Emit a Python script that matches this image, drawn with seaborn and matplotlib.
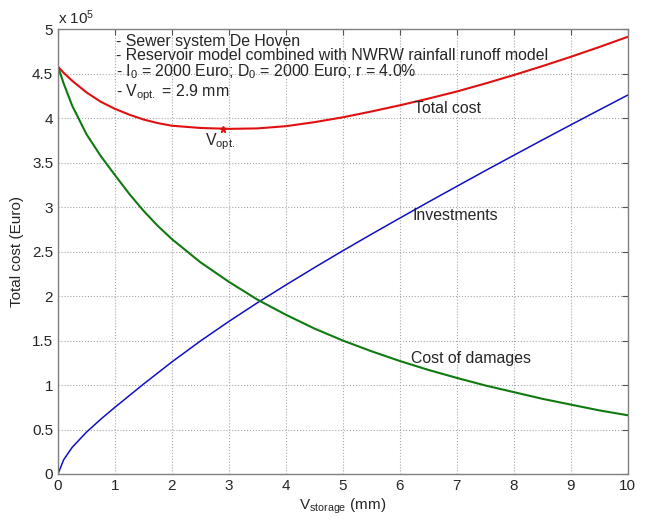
import matplotlib
matplotlib.use("Agg")
import matplotlib.pyplot as plt
import seaborn as sns
import pandas as pd

# ---- data (units of 1e5 Euro) ----
v_storage = [0, 0.1, 0.25, 0.5, 0.75, 1, 1.25, 1.5, 1.75, 2, 2.5, 3, 3.5, 4, 4.5, 5,
             5.5, 6, 6.5, 7, 7.5, 8, 8.5, 9, 9.5, 10]
total_cost = [4.58, 4.51, 4.42, 4.29, 4.185, 4.105, 4.04, 3.985, 3.945, 3.915, 3.89, 3.88, 3.885,
              3.91, 3.955, 4.01, 4.075, 4.145, 4.22, 4.30, 4.39, 4.485, 4.585, 4.69, 4.80, 4.915]
investments = [0.0, 0.16, 0.30, 0.47, 0.615, 0.75, 0.88, 1.01, 1.135, 1.26, 1.495, 1.715, 1.925,
               2.125, 2.32, 2.51, 2.695, 2.877, 3.057, 3.234, 3.41, 3.583, 3.755, 3.925, 4.093, 4.26]
damages = [4.58, 4.39, 4.14, 3.82, 3.575, 3.36, 3.15, 2.96, 2.79, 2.64, 2.38, 2.16, 1.96, 1.79,
           1.635, 1.50, 1.38, 1.27, 1.17, 1.08, 0.995, 0.92, 0.845, 0.78, 0.715, 0.66]
v_opt = 2.9
c_opt = 3.88
x_ticks = [0, 1, 2, 3, 4, 5, 6, 7, 8, 9, 10]
y_ticks = [0, 0.5, 1, 1.5, 2, 2.5, 3, 3.5, 4, 4.5, 5]
y_ticklabels = ["0", "0.5", "1", "1.5", "2", "2.5", "3", "3.5", "4", "4.5", "5"]

sns.set_style("white")
plt.rcParams["font.family"] = ["Liberation Sans", "DejaVu Sans"]
plt.rcParams["mathtext.fontset"] = "custom"
plt.rcParams["mathtext.rm"] = "Liberation Sans"
plt.rcParams["mathtext.it"] = "Liberation Sans"

fig = plt.figure(figsize=(6.55, 5.22), dpi=100)
ax = fig.add_axes([0.0885, 0.092, 0.870, 0.852])

df = pd.DataFrame({"v": v_storage, "total": total_cost, "inv": investments, "dam": damages})
sns.lineplot(data=df, x="v", y="total", ax=ax, color="#e01010", lw=1.5)
sns.lineplot(data=df, x="v", y="inv", ax=ax, color="#1010c0", lw=1.1)
sns.lineplot(data=df, x="v", y="dam", ax=ax, color="#107a10", lw=1.5)

ax.set_xlim(0, 10)
ax.set_ylim(0, 5)
ax.set_xticks(x_ticks)
ax.set_yticks(y_ticks)
ax.set_yticklabels(y_ticklabels)
ax.tick_params(direction="in", top=True, right=True, labelsize=11, length=4, color="#555555")
ax.grid(True, linestyle=":", color="#a8a8a8", linewidth=0.8)
for s in ax.spines.values():
    s.set_visible(True)
    s.set_color("#808080")
    s.set_linewidth(1.0)

fs = 11
fs_info = 11.4
ax.set_xlabel(r"V$_{\mathrm{storage}}$ (mm)", fontsize=fs, labelpad=3)
ax.set_ylabel("Total cost (Euro)", fontsize=fs, labelpad=6)

ax.text(0.0, 1.005, r"x 10$^{5}$", transform=ax.transAxes, fontsize=fs, ha="left", va="bottom")

# info text
ax.text(1.02, 4.86, "- Sewer system De Hoven", fontsize=fs_info, va="center")
ax.text(1.02, 4.70, "- Reservoir model combined with NWRW rainfall runoff model", fontsize=fs_info, va="center")
ax.text(1.02, 4.52, r"- I$_0$ = 2000 Euro; D$_0$ = 2000 Euro; r = 4.0%", fontsize=fs_info, va="center")
ax.text(1.02, 4.29, r"- V$_{\mathrm{opt.}}$ = 2.9 mm", fontsize=fs_info, va="center")

# optimum marker
ax.plot([v_opt], [c_opt], marker="*", color="#e01010", markersize=5, linestyle="none")
ax.text(2.58, c_opt - 0.03, r"V$_{\mathrm{opt.}}$", fontsize=fs_info, ha="left", va="top")

# curve labels
ax.text(6.25, 4.11, "Total cost", fontsize=fs_info, va="center")
ax.text(6.22, 2.91, "Investments", fontsize=fs_info, va="center")
ax.text(6.2, 1.30, "Cost of damages", fontsize=fs_info, va="center")

fig.savefig("out.png", dpi=100)
